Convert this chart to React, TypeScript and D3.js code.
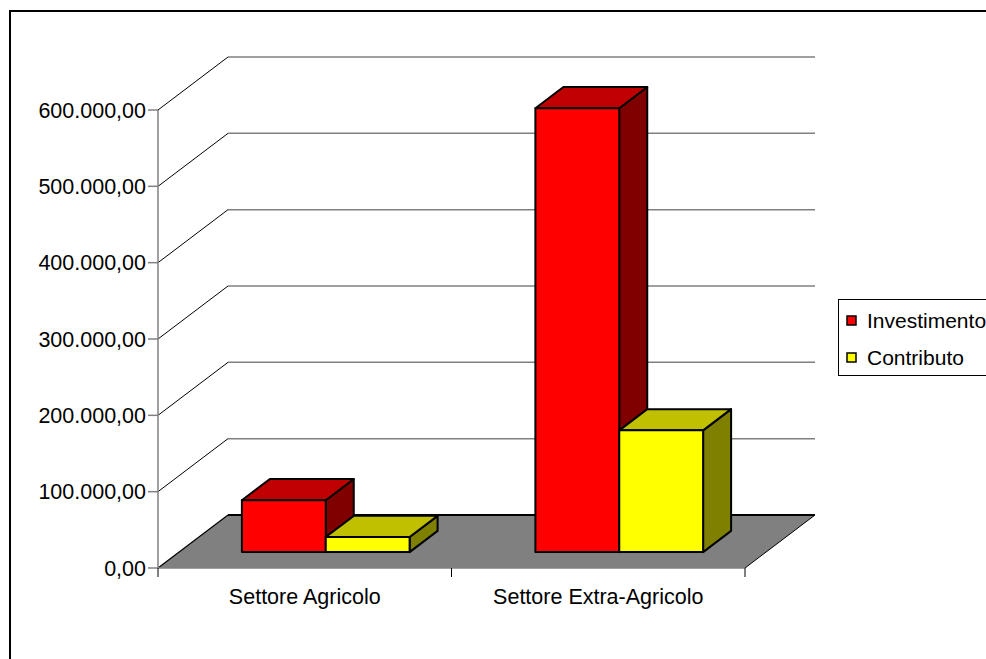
import React from "react";
import * as d3 from "d3";

const categories = ["Settore Agricolo", "Settore Extra-Agricolo"];
const seriesNames = ["Investimento", "Contributo"];
const investimento = [68000, 581500];
const contributo = [19700, 159500];
const valueTicks = [0, 100000, 200000, 300000, 400000, 500000, 600000];

const W = 986;
const H = 659;
const FONT = "'Liberation Sans', Arial, sans-serif";

const colors = [
  { front: "#FF0000", top: "#C00000", side: "#800000" },
  { front: "#FFFF00", top: "#C0C000", side: "#808000" },
];

export default function App() {
  const x0 = 158, x1 = 745, yBase = 568, yTop = 110;
  const D = { x: 70, y: -53 };
  const y = d3.scaleLinear().domain([0, 600000]).range([yBase, yTop]);
  const xBand = d3.scaleBand<string>().domain(categories).range([x0, x1]).padding(0);
  const bw = xBand.bandwidth();
  const barW = bw / 3.5;
  const gap = (bw - 2 * barW) / 2;
  const f0 = 0.3, f1 = 0.7;
  const fmt = d3.formatLocale({ decimal: ",", thousands: ".", grouping: [3], currency: ["", "€"] }).format(",.2f");
  const series = [investimento, contributo];

  const bars: JSX.Element[] = [];
  categories.forEach((c, ci) => {
    series.forEach((s, si) => {
      const v = s[ci];
      const fx = (xBand(c) as number) + gap + si * barW + f0 * D.x;
      const fyB = y(0) + f0 * D.y;
      const fyT = y(v) + f0 * D.y;
      const dx = (f1 - f0) * D.x;
      const dy = (f1 - f0) * D.y;
      const col = colors[si];
      const st = { stroke: "#000", strokeWidth: 2, strokeLinejoin: "round" as const };
      bars.push(
        <g key={c + si}>
          <polygon
            points={`${fx + barW},${fyT} ${fx + barW + dx},${fyT + dy} ${fx + barW + dx},${fyB + dy} ${fx + barW},${fyB}`}
            fill={col.side}
            {...st}
          />
          <polygon
            points={`${fx},${fyT} ${fx + dx},${fyT + dy} ${fx + barW + dx},${fyT + dy} ${fx + barW},${fyT}`}
            fill={col.top}
            {...st}
          />
          <rect x={fx} y={fyT} width={barW} height={fyB - fyT} fill={col.front} {...st} />
        </g>
      );
    });
  });

  return (
    <svg width={W} height={H} style={{ position: "absolute", left: 0, top: 0, background: "#fff" }} fontFamily={FONT}>
      <rect x={10} y={11} width={W + 20} height={H + 20} fill="#fff" stroke="#000" strokeWidth={2} />
      {/* back wall gridlines and left wall diagonals */}
      {valueTicks.map((t) => (
        <g key={"g" + t}>
          {t > 0 && (
            <>
              <line x1={x0} y1={y(t)} x2={x0 + D.x} y2={y(t) + D.y} stroke="#000" strokeWidth={1} />
              <line x1={x0 + D.x} y1={y(t) + D.y} x2={x1 + D.x} y2={y(t) + D.y} stroke="#808080" strokeWidth={1.5} />
            </>
          )}
        </g>
      ))}
      {/* floor */}
      <polygon
        points={`${x0},${yBase} ${x1},${yBase} ${x1 + D.x},${yBase + D.y} ${x0 + D.x},${yBase + D.y}`}
        fill="#808080"
      />
      <line x1={x0 + D.x} y1={yBase + D.y} x2={x1 + D.x} y2={yBase + D.y} stroke="#000" strokeWidth={2} />
      <line x1={x0} y1={yBase} x2={x0 + D.x} y2={yBase + D.y} stroke="#000" strokeWidth={1.2} />
      <line x1={x1} y1={yBase} x2={x1 + D.x} y2={yBase + D.y} stroke="#000" strokeWidth={1} />
      {/* value axis */}
      <line x1={x0} y1={yTop} x2={x0} y2={yBase} stroke="#808080" strokeWidth={1.5} />
      {valueTicks.map((t) => (
        <g key={"t" + t}>
          <line x1={x0 - 10} y1={y(t)} x2={x0} y2={y(t)} stroke="#808080" strokeWidth={1.5} />
          <text x={x0 - 12} y={y(t)} dy="0.36em" textAnchor="end" fontSize={21.5} fill="#000">
            {fmt(t)}
          </text>
        </g>
      ))}
      {/* category axis */}
      <line x1={x0} y1={yBase} x2={x1} y2={yBase} stroke="#808080" strokeWidth={1.5} />
      {[...categories.map((c) => xBand(c) as number), x1].map((xx, i) => (
        <line key={"ct" + i} x1={xx} y1={yBase} x2={xx} y2={yBase + 9} stroke="#000" strokeWidth={1} />
      ))}
      {categories.map((c) => (
        <text key={c} x={(xBand(c) as number) + bw / 2} y={604} textAnchor="middle" fontSize={21.5} fill="#000">
          {c}
        </text>
      ))}
      {bars}
      {/* legend */}
      <rect x={838.5} y={299.5} width={200} height={76} fill="#fff" stroke="#000" strokeWidth={1} />
      {seriesNames.map((n, i) => (
        <g key={n}>
          <rect x={847} y={316 + i * 37} width={9} height={9} fill={colors[i].front} stroke="#000" strokeWidth={1.5} />
          <text x={867} y={320.5 + i * 37} dy="0.36em" fontSize={21} fill="#000">
            {n}
          </text>
        </g>
      ))}
    </svg>
  );
}
